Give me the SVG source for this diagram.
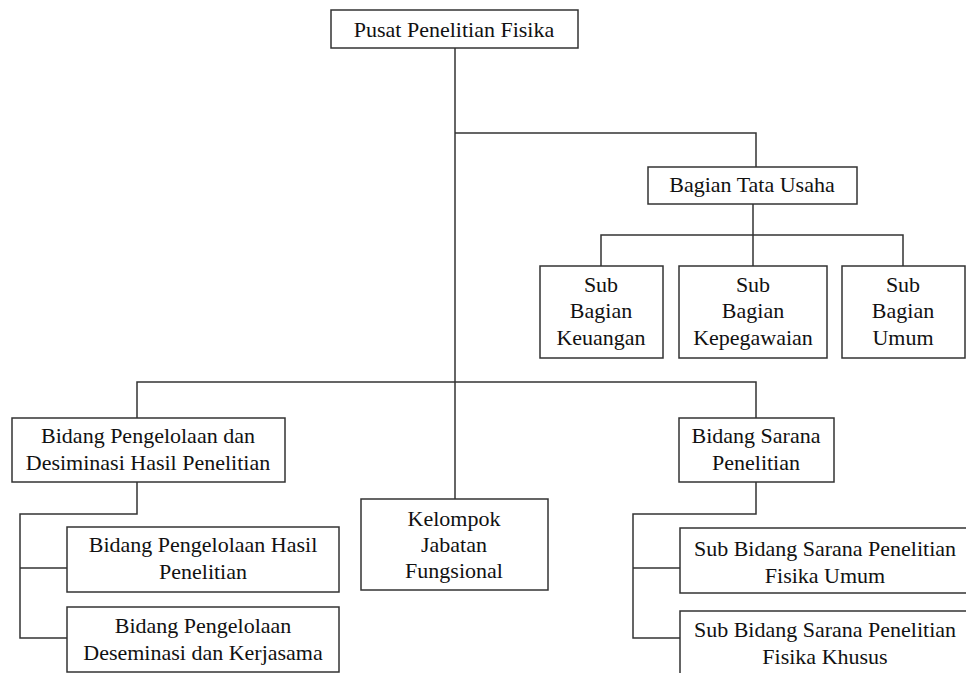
<svg xmlns="http://www.w3.org/2000/svg" width="966" height="673" viewBox="0 0 966 673">
<style>
.box{fill:#fff;stroke:#333;stroke-width:1.5}
.ln{fill:none;stroke:#333;stroke-width:1.5}
text{font-family:'Liberation Serif','Times New Roman',Times,serif;font-size:22px;fill:#111;text-anchor:middle}
</style>
<rect width="966" height="673" fill="#fff"/>
<g id="connectors">
<path class="ln" d="M455 48 V499"/>
<path class="ln" d="M455 133 H756 V167"/>
<path class="ln" d="M753 204 V266"/>
<path class="ln" d="M601 266 V235 H903 V266"/>
<path class="ln" d="M137 418 V382 H756 V418"/>
<path class="ln" d="M137 482 V514 H20 V638 H67"/>
<path class="ln" d="M20 568 H67"/>
<path class="ln" d="M756 482 V514 H633 V638 H680"/>
<path class="ln" d="M633 568 H680"/>
</g>
<g id="pusat">
<rect class="box" x="331" y="10" width="247" height="38"/>
<text x="454" y="37">Pusat Penelitian Fisika</text>
</g>
<g id="tata-usaha">
<rect class="box" x="648" y="167" width="209" height="37"/>
<text x="752" y="192">Bagian Tata Usaha</text>
</g>
<g id="keuangan">
<rect class="box" x="540" y="266" width="123" height="92"/>
<text x="601" y="292">Sub</text>
<text x="601" y="318">Bagian</text>
<text x="601" y="345">Keuangan</text>
</g>
<g id="kepegawaian">
<rect class="box" x="679" y="266" width="148" height="92"/>
<text x="753" y="292">Sub</text>
<text x="753" y="318">Bagian</text>
<text x="753" y="345">Kepegawaian</text>
</g>
<g id="umum">
<rect class="box" x="842" y="266" width="123" height="92"/>
<text x="903" y="292">Sub</text>
<text x="903" y="318">Bagian</text>
<text x="903" y="345">Umum</text>
</g>
<g id="bidang-pengelolaan">
<rect class="box" x="12" y="418" width="273" height="64"/>
<text x="148" y="443">Bidang Pengelolaan dan</text>
<text x="148" y="470">Desiminasi Hasil Penelitian</text>
</g>
<g id="kelompok">
<rect class="box" x="361" y="499" width="187" height="91"/>
<text x="454" y="526">Kelompok</text>
<text x="454" y="552">Jabatan</text>
<text x="454" y="578">Fungsional</text>
</g>
<g id="bidang-sarana">
<rect class="box" x="679" y="418" width="155" height="64"/>
<text x="756" y="443">Bidang Sarana</text>
<text x="756" y="470">Penelitian</text>
</g>
<g id="pengelolaan-hasil">
<rect class="box" x="67" y="527" width="272" height="65"/>
<text x="203" y="552">Bidang Pengelolaan Hasil</text>
<text x="203" y="579">Penelitian</text>
</g>
<g id="pengelolaan-deseminasi">
<rect class="box" x="67" y="607" width="272" height="65"/>
<text x="203" y="633">Bidang Pengelolaan</text>
<text x="203" y="660">Deseminasi dan Kerjasama</text>
</g>
<g id="sarana-umum">
<rect class="box" x="680" y="528" width="290" height="65"/>
<text x="825" y="556">Sub Bidang Sarana Penelitian</text>
<text x="825" y="583">Fisika Umum</text>
</g>
<g id="sarana-khusus">
<rect class="box" x="680" y="611" width="290" height="70"/>
<text x="825" y="637">Sub Bidang Sarana Penelitian</text>
<text x="825" y="664">Fisika Khusus</text>
</g>
</svg>
